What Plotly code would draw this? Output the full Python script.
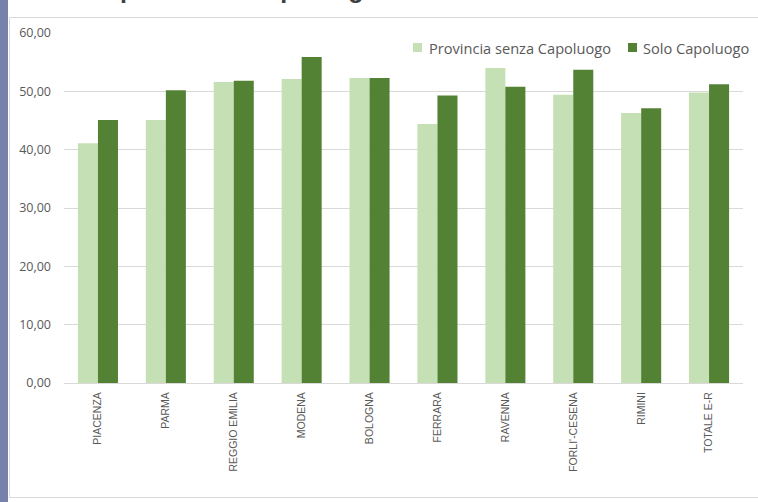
import plotly.graph_objects as go

# Categories and series values
categories = ["PIACENZA", "PARMA", "REGGIO EMILIA", "MODENA", "BOLOGNA",
              "FERRARA", "RAVENNA", "FORLI'-CESENA", "RIMINI", "TOTALE E-R"]
series_names = ["Provincia senza Capoluogo", "Solo Capoluogo"]
provincia_senza_capoluogo = [41.1, 45.1, 51.6, 52.1, 52.3, 44.4, 54.0, 49.4, 46.3, 49.8]
solo_capoluogo = [45.1, 50.2, 51.8, 55.9, 52.3, 49.3, 50.8, 53.7, 47.1, 51.2]
y_ticks = [0, 10, 20, 30, 40, 50, 60]
colors = ["#C5E0B4", "#548235"]

W, H = 758, 502
L, R, T, B = 64, 15, 33, 119
plot_w = W - L - R
plot_h = H - T - B


def px_x(px):
    return (px - L) / plot_w


def px_y(py):
    return (H - B - py) / plot_h


fig = go.Figure()
for name, vals, col in zip(series_names,
                           [provincia_senza_capoluogo, solo_capoluogo], colors):
    fig.add_trace(go.Bar(name=name, x=categories, y=vals, marker_color=col,
                         marker_line_width=0, showlegend=False))

frame = dict(color="#D9D9D9", width=1)
shapes = [
    # side strip
    dict(type="rect", xref="paper", yref="paper", x0=px_x(0), x1=px_x(8),
         y0=px_y(H + 5), y1=px_y(-5), fillcolor="#7880AC", line_width=0,
         layer="below"),
    # chart frame (left, top, bottom)
    dict(type="line", xref="paper", yref="paper", x0=px_x(9.5), x1=px_x(9.5),
         y0=px_y(497.5), y1=px_y(17.5), line=frame, layer="below"),
    dict(type="line", xref="paper", yref="paper", x0=px_x(9.5), x1=px_x(W + 2),
         y0=px_y(17.5), y1=px_y(17.5), line=frame, layer="below"),
    dict(type="line", xref="paper", yref="paper", x0=px_x(9.5), x1=px_x(W + 2),
         y0=px_y(497.5), y1=px_y(497.5), line=frame, layer="below"),
]

# colour key squares with series names
legend_items = [(413, 427), (628, 641)]
annotations = []
for (sx, tx), name, col in zip(legend_items, series_names, colors):
    shapes.append(dict(type="rect", xref="paper", yref="paper",
                       x0=px_x(sx), x1=px_x(sx + 9),
                       y0=px_y(52), y1=px_y(43), fillcolor=col, line_width=0))
    annotations.append(dict(text=name, xref="paper", yref="paper",
                            x=px_x(tx), y=px_y(47.5), xanchor="left",
                            yanchor="middle", showarrow=False,
                            font=dict(family="Open Sans", size=14.6,
                                      color="#595959")))

annotations.append(dict(text="<b>Valori per Area e Capoluogo</b>", xref="paper",
                        yref="paper", x=px_x(43), y=px_y(5), xanchor="left",
                        yanchor="bottom", showarrow=False,
                        font=dict(family="Liberation Sans", size=25,
                                  color="#404040")))

fig.update_layout(
    width=W, height=H,
    margin=dict(l=L, r=R, t=T, b=B, autoexpand=False),
    paper_bgcolor="white", plot_bgcolor="white",
    separators=",.",
    barmode="group", bargap=0.41, bargroupgap=0,
    shapes=shapes, annotations=annotations,
    showlegend=False,
    font=dict(family="Open Sans", color="#595959"),
)
fig.update_yaxes(range=[0, 60], tickvals=y_ticks, tickformat=".2f",
                 showgrid=True, gridcolor="#D9D9D9", gridwidth=1,
                 zeroline=False, showline=False, ticks="",
                 ticklabelstandoff=12,
                 tickfont=dict(size=12.5, color="#595959", family="Open Sans"))
fig.update_xaxes(showline=True, linecolor="#D9D9D9", linewidth=1,
                 tickangle=-90, ticks="", ticklabelstandoff=4,
                 tickfont=dict(size=10.5, color="#595959",
                               family="Liberation Sans"))

fig.write_html("out.html")
